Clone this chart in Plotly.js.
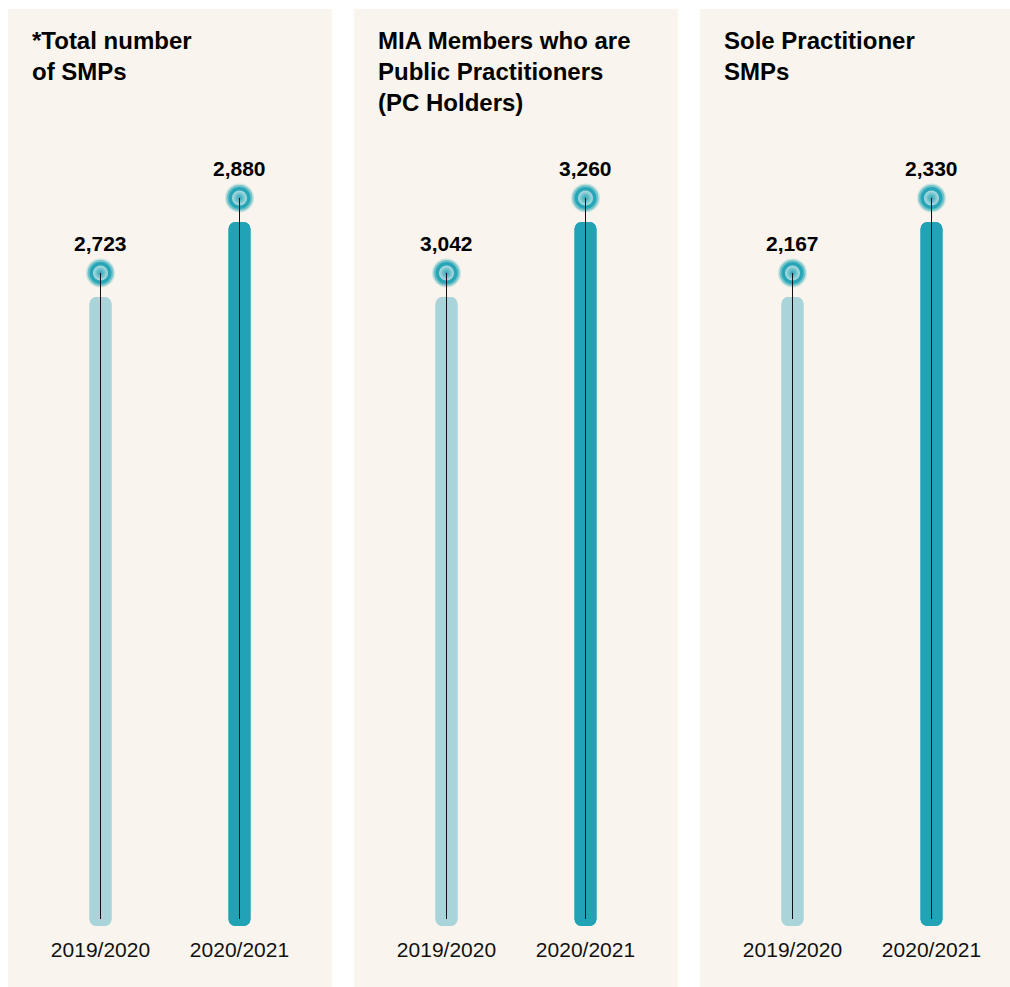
<!DOCTYPE html>
<html>
<head>
<meta charset="utf-8">
<script src="https://cdn.plot.ly/plotly-3.0.1.min.js"></script>
<style>html,body{margin:0;padding:0;background:#fff;}#chart{width:1010px;height:987px;}</style>
</head>
<body>
<div id="chart"></div>
<script>
// ---- data ----
const categories = ["2019/2020", "2020/2021"];
const panelTitles = [
  "*Total number<br>of SMPs",
  "MIA Members who are<br>Public Practitioners<br>(PC Holders)",
  "Sole Practitioner<br>SMPs"
];
const totalSMPs = [2723, 2880];
const publicPractitioners = [3042, 3260];
const solePractitioners = [2167, 2330];
const panelValues = [totalSMPs, publicPractitioners, solePractitioners];

// ---- styling / layout constants ----
const W = 1010, H = 987;
const PLOT_H = 930;               // px height of plotting area (top of figure to axis)
const MARK_PX = [273, 198];       // marker centre pixel rows for the two categories
const BAR_GAP = 24;               // px between marker centre and bar top
const BAR_BOTTOM_PX = 926, LINE_BOTTOM_PX = 919;
const panelLeft = [8, 354, 700], panelRight = [332, 678, 1010], panelTop = 9;
const pxPerCat = 139, firstCatPx = 92.5;
const barColors = ["#a9d4da", "#22a3b5"];
const cream = "#f9f5ee";
const FONT = "Liberation Sans, Arial, sans-serif";

const traces = [], annotations = [], shapes = [];
const layout = {
  width: W, height: H,
  margin: {l: 0, r: 0, t: 0, b: 0},
  paper_bgcolor: "#ffffff", plot_bgcolor: "rgba(0,0,0,0)",
  showlegend: false, barmode: "overlay", barcornerradius: 7,
  font: {family: FONT, color: "#000"},
  annotations: annotations, shapes: shapes
};

panelValues.forEach((vals, i) => {
  const sfx = i === 0 ? "" : String(i + 1);
  const xa = "x" + sfx, ya = "y" + sfx;
  const s = (vals[1] - vals[0]) / (MARK_PX[0] - MARK_PX[1]); // data units per px
  const hi = vals[0] + MARK_PX[0] * s;
  const lo = vals[0] - (PLOT_H - MARK_PX[0]) * s;
  const barBase = lo + (PLOT_H - BAR_BOTTOM_PX) * s;
  const lineBase = lo + (PLOT_H - LINE_BOTTOM_PX) * s;
  const tops = vals.map(v => v - BAR_GAP * s);
  const widthPx = panelRight[i] - panelLeft[i];
  const x0 = -firstCatPx / pxPerCat;

  layout["xaxis" + sfx] = {
    domain: [panelLeft[i] / W, panelRight[i] / W], anchor: ya,
    type: "category", range: [x0, x0 + widthPx / pxPerCat],
    showgrid: false, zeroline: false, showline: false, ticks: "",
    tickfont: {size: 21, family: FONT, color: "#111"}, ticklabelstandoff: 5,
    fixedrange: true
  };
  layout["yaxis" + sfx] = {
    domain: [(H - PLOT_H) / H, 1], anchor: xa, range: [lo, hi],
    visible: false, showgrid: false, zeroline: false, fixedrange: true
  };

  // panel background
  shapes.push({type: "rect", xref: "paper", yref: "paper", layer: "below",
    x0: panelLeft[i] / W, x1: panelRight[i] / W, y0: 0, y1: 1 - panelTop / H,
    fillcolor: cream, line: {width: 0}});

  // bars: up-bar (rounded top) + down-bar (rounded bottom)
  traces.push({type: "bar", x: categories, y: tops.map(t => t - barBase), base: barBase,
    xaxis: xa, yaxis: ya, width: 22 / pxPerCat, marker: {color: barColors, line: {width: 0}},
    hoverinfo: "skip"});
  traces.push({type: "bar", x: categories, y: tops.map(t => barBase - t), base: tops,
    xaxis: xa, yaxis: ya, width: 22 / pxPerCat, marker: {color: barColors, line: {width: 0}},
    hoverinfo: "skip"});

  // glow markers
  traces.push({type: "scatter", mode: "markers", x: categories, y: vals, xaxis: xa, yaxis: ya,
    marker: {size: 29, color: "rgba(34,163,181,0.22)", line: {width: 0}}, hoverinfo: "skip"});
  traces.push({type: "scatter", mode: "markers", x: categories, y: vals, xaxis: xa, yaxis: ya,
    marker: {size: 26, color: "rgba(34,163,181,0.5)", line: {width: 0}}, hoverinfo: "skip"});
  traces.push({type: "scatter", mode: "markers", x: categories, y: vals, xaxis: xa, yaxis: ya,
    marker: {size: 22, color: "#27a6b7", line: {width: 0}}, hoverinfo: "skip"});
  traces.push({type: "scatter", mode: "markers", x: categories, y: vals, xaxis: xa, yaxis: ya,
    marker: {size: 15, color: "#b4dce1", gradient: {type: "radial", color: "#27a6b7"},
      line: {width: 0}}, hoverinfo: "skip"});

  // thin stems
  categories.forEach((c, j) => {
    traces.push({type: "scatter", mode: "lines", x: [c, c], y: [vals[j], lineBase],
      xaxis: xa, yaxis: ya, line: {color: "#111", width: 1}, hoverinfo: "skip"});
    annotations.push({xref: xa, yref: ya, x: c, y: vals[j], yshift: 30, showarrow: false,
      text: "<b>" + vals[j].toLocaleString("en-US") + "</b>",
      font: {size: 21, family: FONT, color: "#000"}});
  });

  // panel title
  annotations.push({xref: "paper", yref: "paper", x: (panelLeft[i] + 22) / W, y: 1 - 25 / H,
    xanchor: "left", yanchor: "top", align: "left", showarrow: false,
    text: "<b>" + panelTitles[i] + "</b>", font: {size: 24, family: FONT, color: "#000"}});
});

Plotly.newPlot("chart", traces, layout, {displayModeBar: false, staticPlot: true});
</script>
</body>
</html>
